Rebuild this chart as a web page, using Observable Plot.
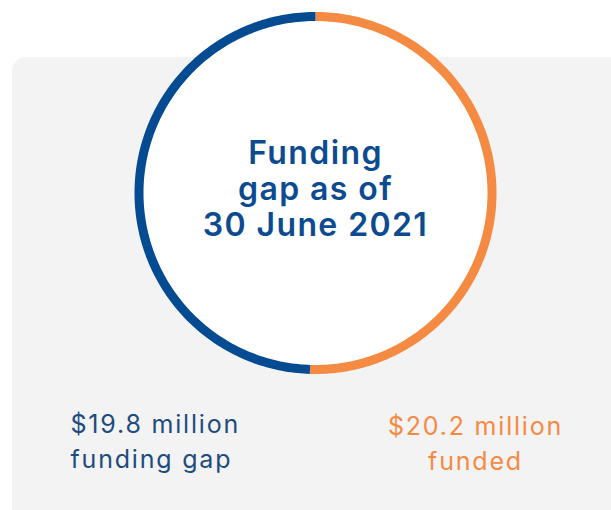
<!DOCTYPE html>
<html><head><meta charset="utf-8">
<script src="https://cdn.jsdelivr.net/npm/d3@7"></script>
<script src="https://cdn.jsdelivr.net/npm/@observablehq/plot@0.6"></script>
<style>
body{margin:0;background:#fff;}
#wrap{position:relative;width:611px;height:510px;overflow:hidden;}
#bg{position:absolute;left:12px;top:57px;width:640px;height:500px;background:#f3f3f3;border-radius:14px;}
#chart{position:absolute;left:0;top:0;}
</style></head>
<body><div id="wrap"><div id="bg"></div><div id="chart"></div></div>
<script>
const categories = ["funded", "funding gap"];
const values = [20.2, 19.8];
const colors = ["#f58a42", "#044b92"];
const centerTitle = ["Funding", "gap as of", "30 June 2021"];
const gapLabel = ["$19.8 million", "funding gap"];
const fundedLabel = ["$20.2 million", "funded"];

const total = d3.sum(values);
const arcPts = [];
let start = 0;
categories.forEach((c, i) => {
  const end = start + values[i] / total * 2 * Math.PI;
  const n = Math.max(2, Math.ceil((end - start) / (Math.PI / 180)));
  for (let k = 0; k <= n; k++) {
    const a = start + (end - start) * k / n;
    arcPts.push({cat: c, x: Math.sin(a), y: Math.cos(a)});
  }
  start = end;
});

const W = 611, H = 510;
const cx = 315, cy = 192.5, R = 176.5;
const toY = px => (cy - px) / R;        // pixel row -> data y (layout only)
const toX = px => (px - cx) / R;
const plot = Plot.plot({
  width: W, height: H,
  marginLeft: cx - R, marginRight: W - (cx + R),
  marginTop: cy - R, marginBottom: H - (cy + R),
  x: {domain: [-1, 1], axis: null},
  y: {domain: [-1, 1], axis: null},
  color: {domain: categories, range: colors},
  style: {background: "transparent", overflow: "visible"},
  marks: [
    Plot.dot([{x: 0, y: 0}], {x: "x", y: "y", r: R, fill: "white", stroke: "none"}),
    Plot.line(arcPts, {x: "x", y: "y", z: "cat", stroke: "cat", strokeWidth: 9, strokeLinecap: "butt", curve: "linear"}),
    Plot.text(centerTitle, {x: () => 0, y: (d, i) => toY(163 + i * 36), text: d => d, fill: "#0d4b90",
      fontSize: 32, fontWeight: 600, fontFamily: "Inter", textAnchor: "middle", lineAnchor: "bottom"}),
    Plot.text(gapLabel, {x: () => toX(70), y: (d, i) => toY(432 + i * 35), text: d => d, fill: "#1d4c7f",
      fontSize: 25, fontFamily: "Inter", textAnchor: "start", lineAnchor: "bottom"}),
    Plot.text(fundedLabel, {x: () => toX(475), y: (d, i) => toY(434 + i * 35), text: d => d, fill: "#f58a42",
      fontSize: 25, fontFamily: "Inter", textAnchor: "middle", lineAnchor: "bottom"}),
  ]
});
document.getElementById("chart").appendChild(plot);
const groups = plot.querySelectorAll('g[aria-label="text"]');
groups[0].setAttribute("letter-spacing", "1.4px");
groups[1].setAttribute("letter-spacing", "1.8px");
groups[2].setAttribute("letter-spacing", "1.8px");
</script></body></html>
